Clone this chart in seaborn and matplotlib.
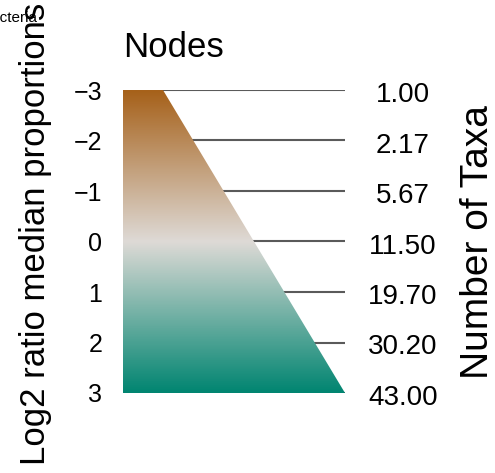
import numpy as np
import matplotlib
matplotlib.use("Agg")
import matplotlib.pyplot as plt
import matplotlib.transforms as mtransforms
from matplotlib.patches import Polygon
import seaborn as sns

# Legend data: log2 ratio scale and the node size (number of taxa) it maps to
log2_ticks = [-3, -2, -1, 0, 1, 2, 3]
log2_labels = ["\u22123", "\u22122", "\u22121", "0", "1", "2", "3"]
taxa_values = [1.00, 2.17, 5.67, 11.50, 19.70, 30.20, 43.00]
taxa_labels = [f"{v:.2f}" for v in taxa_values]
gradient_colors = ["#a6611a", "#dedad6", "#018571"]

sns.set_theme(style="white")
plt.rcParams["font.family"] = ["Liberation Sans", "DejaVu Sans"]

W, H = 495, 473
fig = plt.figure(figsize=(W / 100, H / 100), dpi=100)
ax = fig.add_axes([123 / W, 1 - 393 / H, 222 / W, 303 / H])
ax.set_xlim(0, 1)
ax.set_ylim(3, -3)

# guide lines for each tick, partly hidden behind the wedge
ax.hlines(log2_ticks, 0, 1, color="#5a5a5a", lw=1.5, zorder=1)

# colour gradient clipped to a wedge that widens with node size
cmap = sns.blend_palette(gradient_colors, as_cmap=True)
grad = np.linspace(-3, 3, 400).reshape(-1, 1)
im = ax.imshow(grad, cmap=cmap, vmin=-3, vmax=3, extent=(0, 1, 3, -3),
               aspect="auto", interpolation="bilinear", zorder=2)
top_width = 0.18
wedge = Polygon([(0, -3), (top_width, -3), (1, 3), (0, 3)], closed=True,
                facecolor="none", edgecolor="none", transform=ax.transData)
ax.add_patch(wedge)
im.set_clip_path(wedge)

ax.set_xticks([])
ax.set_yticks(log2_ticks)
ax.set_yticklabels(log2_labels)
ax.tick_params(axis="y", length=0, pad=15, labelsize=18, labelcolor="black")
for sp in ax.spines.values():
    sp.set_visible(False)

# taxa counts on the right
trans = mtransforms.blended_transform_factory(ax.transAxes, ax.transData)
trans = mtransforms.offset_copy(trans, fig=fig, x=0, y=-2, units="dots")
for y, lab in zip(log2_ticks, taxa_labels):
    ax.text(1.261, y, lab, transform=trans, ha="center", va="center_baseline",
            fontsize=20, color="black")

ax.text(0, 1.109, "Nodes", transform=ax.transAxes, ha="left", va="baseline",
        fontsize=25, color="black")

fig.text(36 / W, 1 - 234 / H, "Log2 ratio median proportions", rotation=90,
         ha="center", va="center", fontsize=25, color="black")
fig.text(478 / W, 1 - 242 / H, "Number of Taxa", rotation=90,
         ha="center", va="center", fontsize=28, color="black")
fig.text(38 / W, 1 - 22 / H, "Bacteria", ha="right", va="baseline",
         fontsize=11, color="black")

fig.savefig("out.png", dpi=100)
